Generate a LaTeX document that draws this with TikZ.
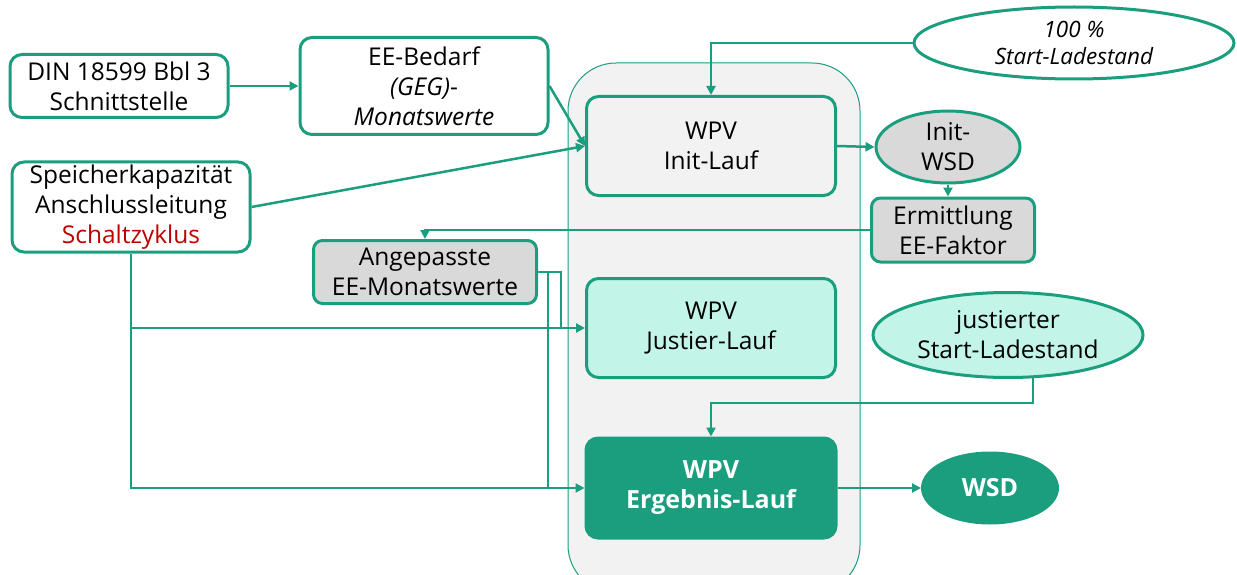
\documentclass[tikz,border=0pt]{standalone}
\usepackage{fontspec}
\setmainfont{Open Sans}
\usetikzlibrary{arrows.meta,shapes.geometric,calc}
\definecolor{tealc}{HTML}{1A9E7E}
\definecolor{mint}{HTML}{C3F4E8}
\definecolor{lgray}{HTML}{F2F2F2}
\definecolor{mgray}{HTML}{D9D9D9}
\definecolor{darkred}{HTML}{C00000}
\tikzset{
  box/.style={draw=tealc, line width=3pt, rounded corners=12pt, fill=white, align=center, inner sep=0pt,
    font=\fontsize{24.5}{30}\selectfont},
  oval/.style={ellipse, draw=tealc, line width=3pt, fill=white, align=center, inner sep=0pt,
    font=\fontsize{24.5}{30}\selectfont},
  conn/.style={draw=tealc, line width=2.5pt, -{Triangle[length=9pt,width=9pt]}},
  line/.style={draw=tealc, line width=2.5pt},
}
\begin{document}
\begin{tikzpicture}[x=1pt,y=-1pt]
\useasboundingbox (0,0) rectangle (1237,575);
% container
\node[draw=tealc, line width=1pt, fill=lgray, rounded corners=48pt, minimum width=292pt, minimum height=530pt, inner sep=0pt] (cont) at (714,328) {};
% nodes
\node[box, minimum width=218pt, minimum height=63pt] (din) at (119,86) {DIN 18599 Bbl 3\\Schnittstelle};
\node[box, minimum width=248pt, minimum height=97pt] (ee) at (424,86) {EE-Bedarf\\\textit{(GEG)}-\\\textit{Monatswerte}};
\node[box, minimum width=238pt, minimum height=90pt] (spk) at (131,207) {Speicherkapazität\\Anschlussleitung\\\textcolor{darkred}{Schaltzyklus}};
\node[box, fill=lgray, minimum width=249pt, minimum height=99pt] (init) at (711,146) {WPV\\Init-Lauf};
\node[oval, minimum width=320pt, minimum height=72pt, font=\fontsize{22.5}{27}\selectfont\itshape] (start) at (1074,43) {100 \%\\Start-Ladestand};
\node[oval, fill=mgray, minimum width=144pt, minimum height=72pt] (iwsd) at (948,147) {Init-\\WSD};
\node[box, fill=mgray, rounded corners=9pt, minimum width=163pt, minimum height=64pt] (erm) at (953,230) {Ermittlung\\EE-Faktor};
\node[box, fill=mgray, rounded corners=9pt, minimum width=223pt, minimum height=63pt] (ang) at (425,272) {Angepasste\\EE-Monatswerte};
\node[box, fill=mint, minimum width=249pt, minimum height=99pt] (just) at (711,328) {WPV\\Justier-Lauf};
\node[oval, fill=mint, minimum width=270pt, minimum height=85pt] (jst) at (1008,335) {justierter\\Start-Ladestand};
\node[box, fill=tealc, text=white, font=\fontsize{25}{30}\selectfont\bfseries, minimum width=250pt, minimum height=100pt] (erg) at (711,488) {WPV\\Ergebnis-Lauf};
\node[oval, fill=tealc, text=white, font=\fontsize{25}{30}\selectfont\bfseries, minimum width=135pt, minimum height=70pt] (wsd) at (990,488) {WSD};
% connectors
\draw[conn] (din.east) -- (ee.west);
\draw[conn] (ee.east) -- (init.west);
\draw[conn] (spk.east) -- (init.west);
\draw[conn] (start.west) -| (init.north);
\draw[conn] (init.east) -- (iwsd.west);
\draw[conn] (iwsd.south) -- (iwsd.south |- erm.north);
\draw[conn] (erm.west) -| (ang.north);
\coordinate (jx) at (561,328);
\coordinate (ex) at (548,488);
\draw[line] (ang.east) -| (jx);
\draw[line] (ang.east) -| (ex);
\draw[conn] (spk.south) |- (just.west);
\draw[conn] (spk.south) |- (erg.west);
\coordinate (jb) at ($(jst.south)+(25,-1)$);
\draw[conn] (jb) -- ++(0,25) -| (erg.north);
\draw[conn] (erg.east) -- (wsd.west);
\end{tikzpicture}
\end{document}
